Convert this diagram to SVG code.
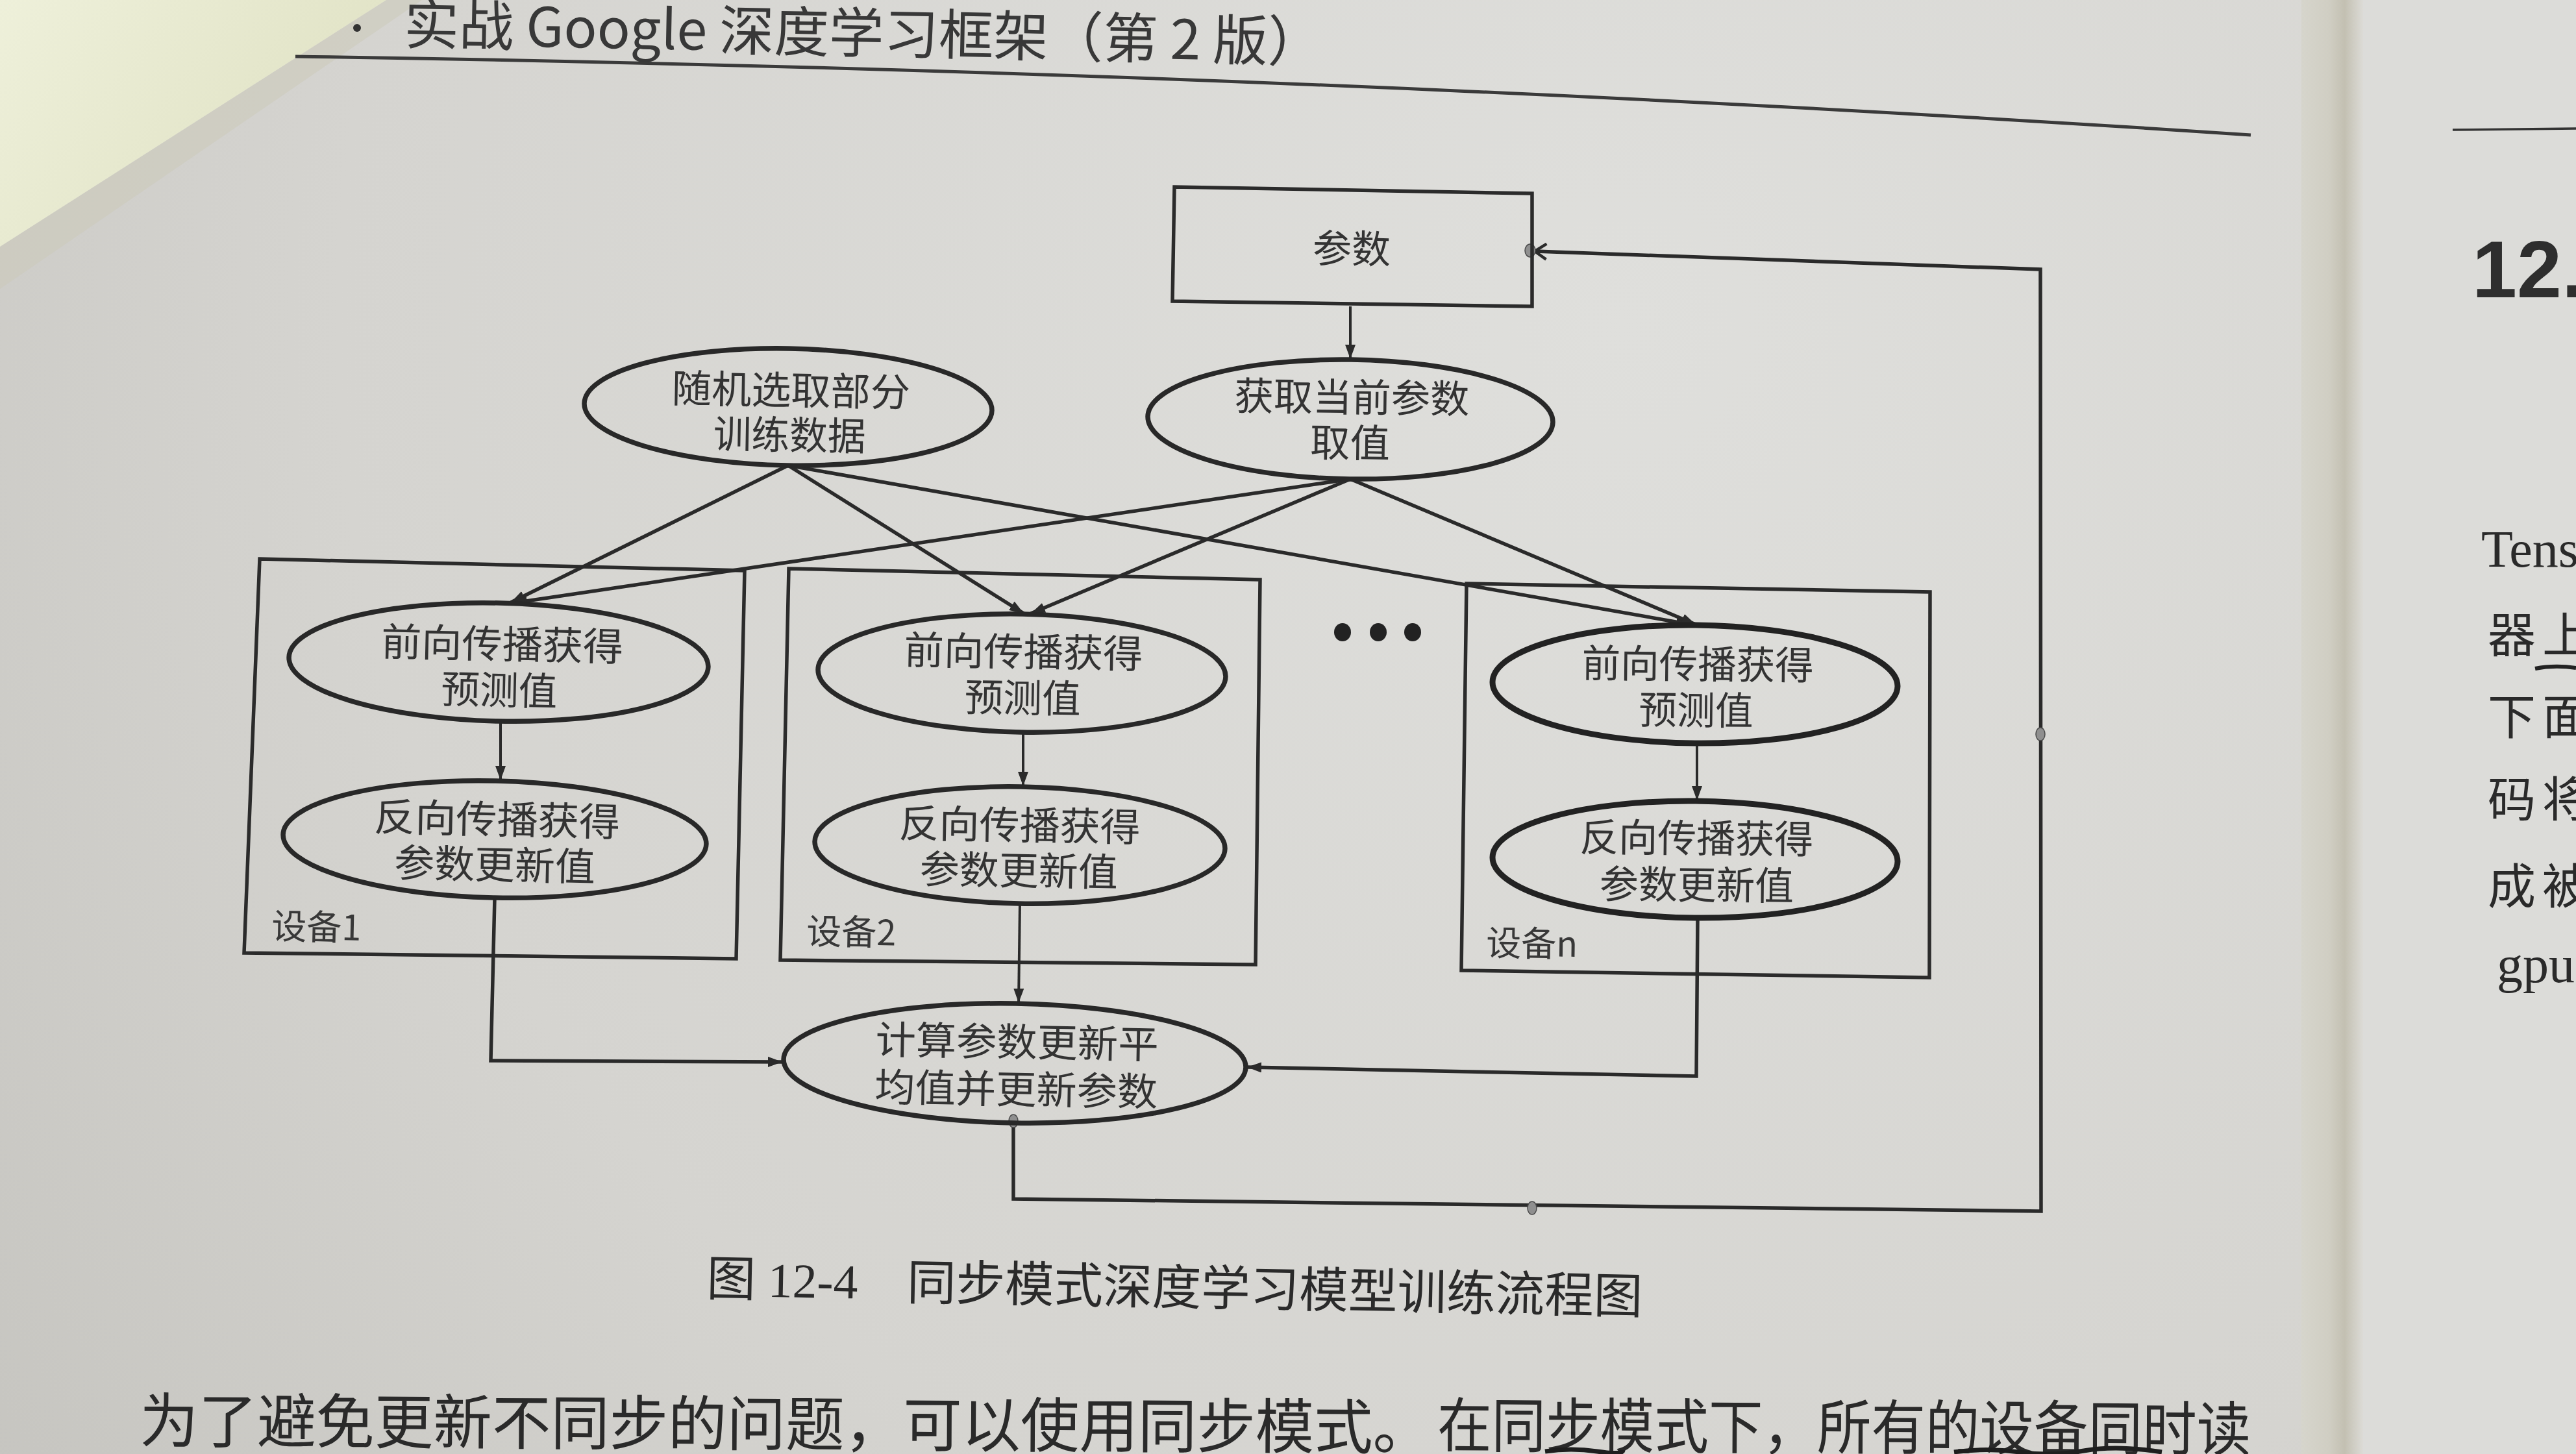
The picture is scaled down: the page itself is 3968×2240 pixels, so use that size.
<svg xmlns="http://www.w3.org/2000/svg" width="3968" height="2240" viewBox="0 0 3968 2240">
<defs>
<style>
.ln{fill:none;stroke:#2a2a2a;stroke-width:5.5;stroke-linejoin:miter}
.thin{fill:none;stroke:#2a2a2a;stroke-width:4}
.el{fill:none;stroke:#282828;stroke-width:7.5}
.elb{fill:none;stroke:#222;stroke-width:9}
.bx{fill:none;stroke:#2b2b2b;stroke-width:5.5;stroke-linejoin:miter}
.t{font-family:"Noto Sans CJK SC","Noto Sans CJK TC",sans-serif;font-size:60px;fill:#333;text-anchor:middle}
.lab{font-family:"Noto Sans CJK SC",sans-serif;font-size:54px;fill:#383838}
.wp{fill:#8f8f8f;stroke:#4a4a4a;stroke-width:1.5}
.serif{font-family:"Liberation Serif","Noto Sans CJK SC",serif;fill:#2a2a2a}
.sans{font-family:"Noto Sans CJK SC","Liberation Sans",sans-serif;fill:#383838}
</style>
<radialGradient id="pg" cx="2500" cy="500" r="3300" gradientUnits="userSpaceOnUse">
<stop offset="0" stop-color="#dfdfdc"/>
<stop offset="0.6" stop-color="#d5d4d0"/>
<stop offset="1" stop-color="#c3c2bd"/>
</radialGradient>
<linearGradient id="cream" x1="0" y1="0" x2="420" y2="320" gradientUnits="userSpaceOnUse">
<stop offset="0" stop-color="#eef0da"/>
<stop offset="1" stop-color="#e1e3c6"/>
</linearGradient>
<linearGradient id="gut" x1="3545" y1="0" x2="3640" y2="0" gradientUnits="userSpaceOnUse">
<stop offset="0" stop-color="#d6d5cc"/>
<stop offset="0.45" stop-color="#d0cec3"/>
<stop offset="0.7" stop-color="#c3c0b2"/>
<stop offset="1" stop-color="#dcdbd6"/>
</linearGradient>
<marker id="ah" viewBox="0 0 22 16" refX="22" refY="8" markerWidth="22" markerHeight="16" markerUnits="userSpaceOnUse" orient="auto">
<path d="M0,0 L22,8 L0,16 Z" fill="#2b2b2b"/>
</marker>
<marker id="ao" viewBox="0 0 24 28" refX="22" refY="14" markerWidth="24" markerHeight="28" markerUnits="userSpaceOnUse" orient="auto">
<path d="M4,2 L22,14 L4,26" fill="none" stroke="#2b2b2b" stroke-width="4.5"/>
</marker>
</defs>

<g id="page">
<rect x="0" y="0" width="3968" height="2240" fill="url(#pg)"/>
<rect x="3545" y="0" width="95" height="2240" fill="url(#gut)"/>
<rect x="3640" y="0" width="328" height="2240" fill="#dcdcd9"/>
<polygon points="650,0 595,0 0,380 0,445" fill="#cccbb9" opacity="0.55"/>
<polygon points="0,0 595,0 0,380" fill="url(#cream)"/>
</g>

<g id="header">
<circle cx="550" cy="43" r="6" fill="#333"/>
<text class="sans" x="622" y="68" font-size="84" textLength="1415" lengthAdjust="spacingAndGlyphs" transform="rotate(1.1 622 68)">实战 Google 深度学习框架（第 2 版）</text>
<path d="M455,87 Q2000,110 3467,208" fill="none" stroke="#3a3a3a" stroke-width="5"/>
</g>

<g id="right-page">
<path d="M3778,200 L3968,198" stroke="#333" stroke-width="3.5" fill="none"/>
<text x="3808" y="458" font-family="Liberation Sans,sans-serif" font-weight="bold" font-size="124" fill="#2e2e2e">12.</text>
<text class="serif" x="3822" y="873" font-size="80">Tens</text>
<text class="serif" x="3832" y="1005" font-size="74" letter-spacing="10">器上</text>
<path d="M3905,1030 Q3935,1024 3968,1029" stroke="#222" stroke-width="6" fill="none"/>
<text class="serif" x="3832" y="1131" font-size="74" letter-spacing="10">下面</text>
<text class="serif" x="3832" y="1258" font-size="74" letter-spacing="10">码将</text>
<text class="serif" x="3832" y="1392" font-size="74" letter-spacing="10">成被</text>
<text class="serif" x="3846" y="1513" font-size="80">gpu</text>
</g>

<g id="device1">
<polygon class="bx" points="400,861 1147,879 1134,1477 376,1468"/>
<text class="lab" x="418" y="1446" transform="rotate(1.2 418 1446)">设备1</text>
</g>
<g id="device2">
<polygon class="bx" points="1215,876 1941,893 1934,1486 1202,1479"/>
<text class="lab" x="1242" y="1454" transform="rotate(1.0 1242 1454)">设备2</text>
</g>
<g id="devicen">
<polygon class="bx" points="2259,899 2973,912 2972,1506 2251,1495"/>
<text class="lab" x="2289" y="1472" transform="rotate(0.8 2289 1472)">设备n</text>
</g>

<g id="ellipsis">
<ellipse cx="2068" cy="974" rx="13" ry="14" fill="#222"/>
<ellipse cx="2123" cy="974" rx="13" ry="14" fill="#222"/>
<ellipse cx="2176" cy="974" rx="13" ry="14" fill="#222"/>
</g>

<g id="connectors">
<path class="thin" d="M2080,472 L2080,553" marker-end="url(#ah)"/>
<path class="ln" d="M1214,717 L787,928" marker-end="url(#ah)"/>
<path class="ln" d="M2080,738 L790,929" marker-end="url(#ah)"/>
<path class="ln" d="M1214,717 L1577,945" marker-end="url(#ah)"/>
<path class="ln" d="M2080,738 L1588,945" marker-end="url(#ah)"/>
<path class="ln" d="M1214,717 L2604,962" marker-end="url(#ah)"/>
<path class="ln" d="M2080,738 L2612,962" marker-end="url(#ah)"/>
<path class="thin" d="M771,1112 L771,1202" marker-end="url(#ah)"/>
<path class="thin" d="M1576,1129 L1576,1211" marker-end="url(#ah)"/>
<path class="thin" d="M2614,1146 L2614,1233" marker-end="url(#ah)"/>
<path class="ln" d="M762,1383 L756,1634 L1205,1636" marker-end="url(#ah)"/>
<path class="thin" d="M1571,1392 L1569,1545" marker-end="url(#ah)"/>
<path class="ln" d="M2615,1414 L2613,1658 L1921,1644" marker-end="url(#ah)"/>
<path class="ln" d="M1561,1730 L1561,1847 L3144,1866 L3143,415 L2364,387" marker-end="url(#ao)"/>
<ellipse class="wp" cx="2357" cy="386" rx="8" ry="10"/>
<ellipse class="wp" cx="3143" cy="1131" rx="7" ry="10"/>
<ellipse class="wp" cx="2360" cy="1861" rx="7" ry="10"/>
<ellipse class="wp" cx="1561" cy="1727" rx="7" ry="10"/>
</g>

<g id="params">
<polygon class="bx" points="1809,288 2360,298 2360,472 1806,464"/>
<text class="t" x="2082" y="405" font-size="62" transform="rotate(0.9 2082 382)">参数</text>
</g>

<g id="random-data" transform="rotate(1.0 1214 627)">
<ellipse class="el" cx="1214" cy="627" rx="314" ry="90"/>
<text class="t" x="1218" y="623" textLength="367" lengthAdjust="spacingAndGlyphs">随机选取部分</text>
<text class="t" x="1217" y="692" textLength="235" lengthAdjust="spacingAndGlyphs">训练数据</text>
</g>

<g id="get-params" transform="rotate(0.8 2080 646)">
<ellipse class="el" cx="2080" cy="646" rx="312" ry="92"/>
<text class="t" x="2082" y="634" textLength="362" lengthAdjust="spacingAndGlyphs">获取当前参数</text>
<text class="t" x="2080" y="704" textLength="123" lengthAdjust="spacingAndGlyphs">取值</text>
</g>

<g id="forward1" transform="rotate(1.3 768 1020)">
<ellipse class="el" cx="768" cy="1020" rx="323" ry="91"/>
<text class="t" x="773" y="1014" textLength="373" lengthAdjust="spacingAndGlyphs">前向传播获得</text>
<text class="t" x="770" y="1085" textLength="179" lengthAdjust="spacingAndGlyphs">预测值</text>
</g>

<g id="backward1" transform="rotate(1.3 762 1293)">
<ellipse class="el" cx="762" cy="1293" rx="326" ry="90"/>
<text class="t" x="765" y="1284" textLength="379" lengthAdjust="spacingAndGlyphs">反向传播获得</text>
<text class="t" x="763" y="1354" textLength="310" lengthAdjust="spacingAndGlyphs">参数更新值</text>
</g>

<g id="forward2" transform="rotate(1.0 1574 1037)">
<ellipse class="el" cx="1574" cy="1037" rx="314" ry="91"/>
<text class="t" x="1576" y="1026" textLength="368" lengthAdjust="spacingAndGlyphs">前向传播获得</text>
<text class="t" x="1576" y="1097" textLength="179" lengthAdjust="spacingAndGlyphs">预测值</text>
</g>

<g id="backward2" transform="rotate(1.0 1571 1302)">
<ellipse class="el" cx="1571" cy="1302" rx="316" ry="90"/>
<text class="t" x="1570" y="1293" textLength="372" lengthAdjust="spacingAndGlyphs">反向传播获得</text>
<text class="t" x="1570" y="1363" textLength="305" lengthAdjust="spacingAndGlyphs">参数更新值</text>
</g>

<g id="forwardn" transform="rotate(0.6 2611 1054)">
<ellipse class="elb" cx="2611" cy="1054" rx="312" ry="91"/>
<text class="t" x="2615" y="1045" textLength="357" lengthAdjust="spacingAndGlyphs">前向传播获得</text>
<text class="t" x="2613" y="1116" textLength="176" lengthAdjust="spacingAndGlyphs">预测值</text>
</g>

<g id="backwardn" transform="rotate(0.6 2611 1324)">
<ellipse class="elb" cx="2611" cy="1324" rx="312" ry="90"/>
<text class="t" x="2613" y="1313" textLength="360" lengthAdjust="spacingAndGlyphs">反向传播获得</text>
<text class="t" x="2614" y="1385" textLength="299" lengthAdjust="spacingAndGlyphs">参数更新值</text>
</g>

<g id="average" transform="rotate(1.0 1563 1638)">
<ellipse class="el" cx="1563" cy="1638" rx="356" ry="92"/>
<text class="t" x="1566" y="1627" textLength="436" lengthAdjust="spacingAndGlyphs">计算参数更新平</text>
<text class="t" x="1566" y="1700" textLength="436" lengthAdjust="spacingAndGlyphs">均值并更新参数</text>
</g>

<g id="caption">
<text class="serif" x="1088" y="1996" font-size="75" textLength="1442" lengthAdjust="spacingAndGlyphs" transform="rotate(1.1 1088 1996)">图 12-4　同步模式深度学习模型训练流程图</text>
</g>

<g id="body">
<text class="serif" x="215" y="2222" font-size="92" textLength="1990" lengthAdjust="spacingAndGlyphs" transform="rotate(0.3 215 2222)">为了避免更新不同步的问题，可以使用同步模式。</text>
<text class="serif" x="2214" y="2229" font-size="92" textLength="1253" lengthAdjust="spacingAndGlyphs" transform="rotate(0.3 2214 2229)">在同步模式下，所有的设备同时读</text>
<path d="M2380,2236 Q2420,2230 2460,2236 T2500,2234" fill="none" stroke="#1e1e1e" stroke-width="7"/>
<path d="M3010,2237 Q3060,2230 3110,2237 T3210,2235 T3330,2237" fill="none" stroke="#1e1e1e" stroke-width="7"/>
</g>
</svg>
